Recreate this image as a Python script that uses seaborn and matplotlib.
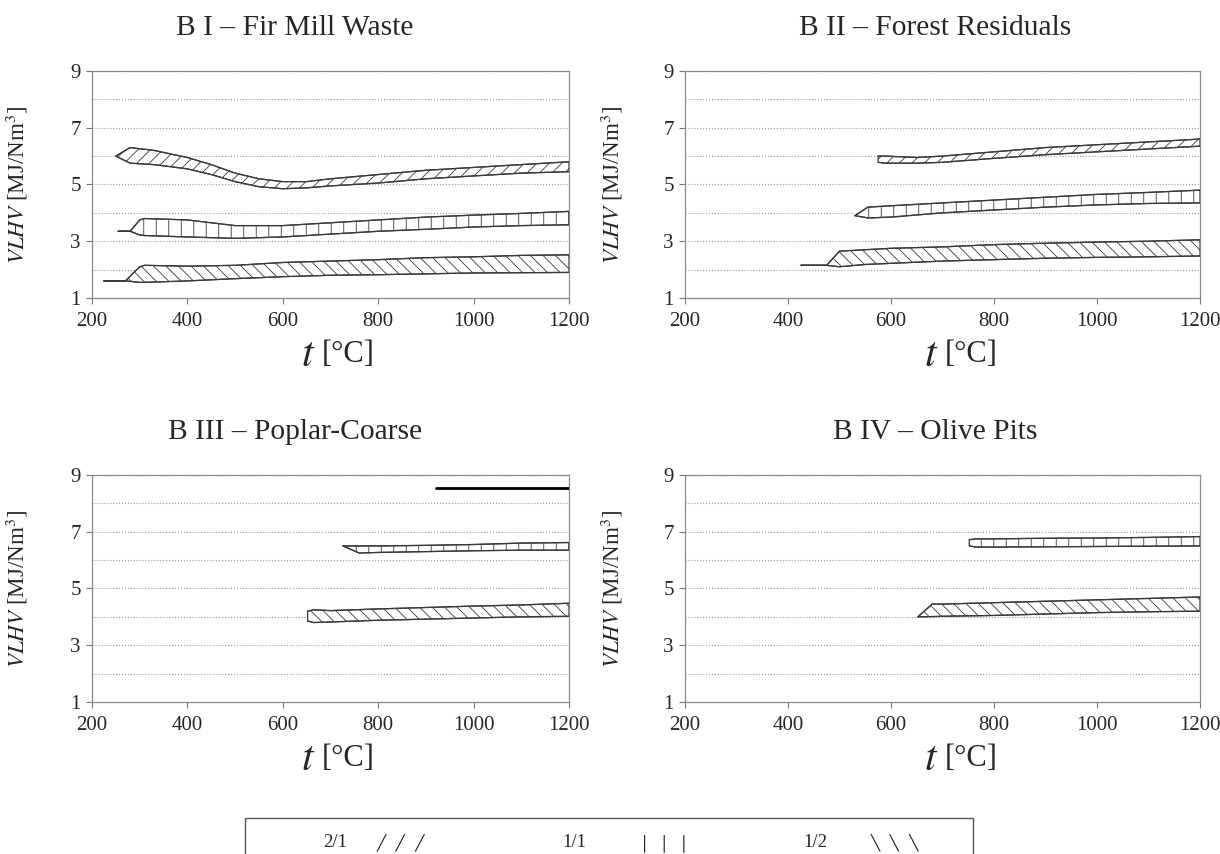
import numpy as np
import pandas as pd
import matplotlib
matplotlib.use('Agg')
import matplotlib.pyplot as plt
import seaborn as sns
from matplotlib.patches import Rectangle

# ---------------- data ----------------
titles = ['B I \u2013 Fir Mill Waste', 'B II \u2013 Forest Residuals',
          'B III \u2013 Poplar-Coarse', 'B IV \u2013 Olive Pits']
ratios = ['2/1', '1/1', '1/2']
hatches = {'2/1': '//', '1/1': '|', '1/2': '\\\\'}

# panel 1 - fir mill waste
p1_21_t = [250, 280, 330, 400, 450, 500, 550, 600, 650, 700, 800, 900, 1000, 1100, 1200]
p1_21_hi = [6.0, 6.3, 6.2, 5.95, 5.7, 5.4, 5.2, 5.1, 5.1, 5.2, 5.35, 5.5, 5.6, 5.7, 5.8]
p1_21_lo = [6.0, 5.75, 5.7, 5.55, 5.35, 5.1, 4.92, 4.85, 4.88, 4.95, 5.05, 5.2, 5.3, 5.4, 5.45]

p1_11_t = [255, 280, 300, 310, 400, 500, 600, 700, 800, 900, 1000, 1100, 1200]
p1_11_hi = [3.35, 3.35, 3.75, 3.8, 3.75, 3.55, 3.55, 3.65, 3.75, 3.85, 3.92, 3.98, 4.05]
p1_11_lo = [3.35, 3.35, 3.22, 3.2, 3.15, 3.1, 3.15, 3.25, 3.35, 3.42, 3.5, 3.55, 3.58]

p1_12_t = [225, 270, 300, 310, 400, 500, 600, 700, 800, 900, 1000, 1100, 1200]
p1_12_hi = [1.6, 1.6, 2.1, 2.15, 2.12, 2.15, 2.25, 2.3, 2.35, 2.42, 2.45, 2.5, 2.52]
p1_12_lo = [1.6, 1.6, 1.55, 1.55, 1.6, 1.68, 1.75, 1.8, 1.82, 1.85, 1.88, 1.89, 1.9]

# panel 2 - forest residuals
p2_21_t = [575, 590, 650, 700, 800, 900, 1000, 1100, 1200]
p2_21_hi = [6.0, 6.0, 5.95, 6.0, 6.15, 6.3, 6.4, 6.5, 6.6]
p2_21_lo = [5.78, 5.75, 5.75, 5.78, 5.92, 6.05, 6.15, 6.25, 6.35]

p2_11_t = [530, 555, 600, 700, 800, 900, 1000, 1100, 1200]
p2_11_hi = [3.9, 4.2, 4.25, 4.35, 4.45, 4.55, 4.65, 4.72, 4.8]
p2_11_lo = [3.9, 3.82, 3.85, 4.0, 4.1, 4.2, 4.28, 4.33, 4.35]

p2_12_t = [425, 475, 500, 550, 600, 700, 800, 900, 1000, 1100, 1200]
p2_12_hi = [2.15, 2.15, 2.65, 2.7, 2.75, 2.8, 2.88, 2.93, 2.97, 3.0, 3.05]
p2_12_lo = [2.15, 2.15, 2.1, 2.18, 2.22, 2.3, 2.35, 2.4, 2.43, 2.45, 2.48]

# panel 3 - poplar coarse
p3_line_t = [922, 1200]
p3_line_v = [8.55, 8.55]

p3_11_t = [726, 760, 800, 900, 1000, 1100, 1200]
p3_11_hi = [6.5, 6.5, 6.5, 6.52, 6.55, 6.6, 6.62]
p3_11_lo = [6.5, 6.25, 6.27, 6.3, 6.33, 6.35, 6.35]

p3_12_t = [652, 665, 700, 800, 900, 1000, 1100, 1200]
p3_12_hi = [4.2, 4.25, 4.22, 4.28, 4.33, 4.38, 4.42, 4.48]
p3_12_lo = [3.85, 3.8, 3.82, 3.88, 3.92, 3.96, 4.0, 4.02]

# panel 4 - olive pits
p4_11_t = [752, 765, 800, 900, 1000, 1100, 1200]
p4_11_hi = [6.72, 6.75, 6.75, 6.77, 6.78, 6.8, 6.83]
p4_11_lo = [6.5, 6.46, 6.46, 6.47, 6.48, 6.49, 6.5]

p4_12_t = [652, 680, 700, 800, 900, 1000, 1100, 1200]
p4_12_hi = [4.0, 4.45, 4.45, 4.5, 4.55, 4.6, 4.65, 4.7]
p4_12_lo = [4.0, 4.01, 4.02, 4.05, 4.1, 4.15, 4.18, 4.2]

x_ticks = [200, 400, 600, 800, 1000, 1200]
y_ticks = [1, 3, 5, 7, 9]

bands = [
    {'2/1': (p1_21_t, p1_21_hi, p1_21_lo), '1/1': (p1_11_t, p1_11_hi, p1_11_lo),
     '1/2': (p1_12_t, p1_12_hi, p1_12_lo)},
    {'2/1': (p2_21_t, p2_21_hi, p2_21_lo), '1/1': (p2_11_t, p2_11_hi, p2_11_lo),
     '1/2': (p2_12_t, p2_12_hi, p2_12_lo)},
    {'1/1': (p3_11_t, p3_11_hi, p3_11_lo), '1/2': (p3_12_t, p3_12_hi, p3_12_lo)},
    {'1/1': (p4_11_t, p4_11_hi, p4_11_lo), '1/2': (p4_12_t, p4_12_hi, p4_12_lo)},
]

# ---------------- style ----------------
# low dpi gives denser hatching; S rescales points so sizes stay as at 100 dpi
DPI = 75
S = 100 / DPI

sns.set_style('white')
plt.rcParams['font.family'] = ['Liberation Serif', 'DejaVu Serif']
plt.rcParams['mathtext.fontset'] = 'stix'
plt.rcParams['hatch.linewidth'] = 0.6 * S

fig = plt.figure(figsize=(1220 / DPI, 854 / DPI), dpi=DPI)

# axes rectangles in figure fractions
positions = [
    [0.0754, 0.6511, 0.3910, 0.2658],
    [0.5615, 0.6511, 0.4221, 0.2658],
    [0.0754, 0.1780, 0.3910, 0.2658],
    [0.5615, 0.1780, 0.4221, 0.2658],
]
title_x = [0.425, 0.485, 0.425, 0.485]
ylab_x = [-0.130, -0.117, -0.130, -0.117]
t_x = [0.468, 0.491, 0.468, 0.491]

line_col = '#3a3a3a'

for i, pos in enumerate(positions):
    ax = fig.add_axes(pos)

    # long-form frame of band boundaries
    rows = []
    for r, (t, hi, lo) in bands[i].items():
        for tt, h, l in zip(t, hi, lo):
            rows.append({'t': tt, 'v': h, 'ratio': r, 'side': 'hi'})
            rows.append({'t': tt, 'v': l, 'ratio': r, 'side': 'lo'})
    df = pd.DataFrame(rows)
    df['unit'] = df['ratio'] + df['side']

    for r, (t, hi, lo) in bands[i].items():
        ax.fill_between(t, lo, hi, facecolor='white', edgecolor=line_col,
                        hatch=hatches[r], linewidth=0.9 * S, zorder=3)

    sns.lineplot(data=df, x='t', y='v', units='unit', estimator=None,
                 color=line_col, linewidth=0.9 * S, ax=ax, zorder=4, legend=False)

    if i == 2:
        sns.lineplot(x=p3_line_t, y=p3_line_v, color='black', linewidth=2.0 * S,
                     ax=ax, zorder=4)

    ax.set_xlim(200, 1200)
    ax.set_ylim(1, 9)
    ax.set_xticks(x_ticks)
    ax.set_yticks(y_ticks)
    ax.set_yticks(range(1, 10), minor=True)
    ax.grid(True, which='both', axis='y', linestyle=':', color='#9a9a9a',
            linewidth=0.8 * S, zorder=0)
    ax.grid(False, axis='x')
    ax.tick_params(axis='both', which='major', labelsize=15 * S, direction='out',
                   length=4 * S, color='#777777', width=0.8 * S, left=True, bottom=True)
    ax.tick_params(axis='y', which='minor', length=0)
    ax.tick_params(axis='x', pad=6 * S)
    ax.tick_params(axis='y', pad=4 * S)
    for s in ax.spines.values():
        s.set_color('#8a8a8a')
        s.set_linewidth(0.9 * S)
        s.set_visible(True)

    ax.set_xlabel('')
    ax.set_ylabel(r'$\mathit{VLHV}$ [MJ/Nm$^3$]', fontsize=16.6 * S)
    ax.yaxis.set_label_coords(ylab_x[i], 0.5)

    ax.set_title(titles[i], fontsize=21.2 * S, x=title_x[i], pad=26 * S)

    # x label: large italic t followed by unit
    ax.text(t_x[i], -0.255, r'$t$', transform=ax.transAxes, fontsize=30 * S,
            ha='right', va='center')
    ax.text(t_x[i] + 0.013, -0.25, '[\u00b0C]', transform=ax.transAxes,
            fontsize=22 * S, ha='left', va='center')

# legend box at the bottom (cut by the figure edge, as in the reference)
box = Rectangle((0.2008, -0.05), 0.5967, 0.092, transform=fig.transFigure,
                facecolor='white', edgecolor='#555555', linewidth=1.0 * S,
                clip_on=False)
fig.patches.append(box)
leg_x = [0.2746, 0.471, 0.668]
sym_x = [0.309, 0.5246, 0.714]
leg_sym = ['\u2571  \u2571  \u2571', '\u2502  \u2502  \u2502', '\u2572  \u2572  \u2572']
for lx, sx, r, s in zip(leg_x, sym_x, ratios, leg_sym):
    fig.text(lx, 0.013, r, fontsize=13.5 * S, ha='center', va='center')
    fig.text(sx, 0.013, s, fontsize=11 * S, ha='left', va='center',
             family='DejaVu Sans', fontweight='bold')

fig.savefig('out.png', dpi=DPI)
